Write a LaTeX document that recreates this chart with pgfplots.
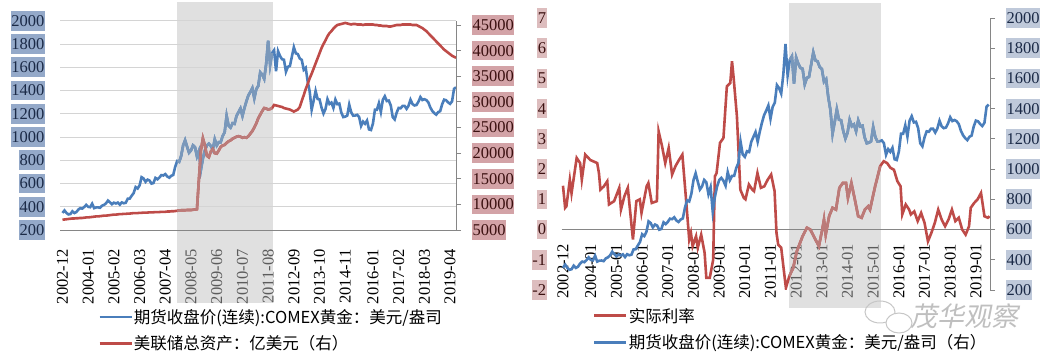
\documentclass[border=0pt]{standalone}
\usepackage{pgfplots}
\pgfplotsset{compat=1.18}
\usepackage{pgfplotstable}
\usepackage{fontspec}
\setmainfont{Liberation Serif}
\newfontfamily\cjk{Noto Sans CJK SC}
\definecolor{goldblue}{HTML}{4A7EBB}
\definecolor{fedred}{HTML}{BE4B48}
\definecolor{goldbluelight}{HTML}{7A98BA}
\definecolor{fedredlight}{HTML}{BB7B79}
\definecolor{boxblueL}{HTML}{94A9C9}
\definecolor{boxpinkL}{HTML}{D3A3A7}
\definecolor{boxpinkR}{HTML}{DDBDBE}
\definecolor{boxblueR}{HTML}{BFC9DA}
\definecolor{gridgray}{HTML}{D4D4D4}
\definecolor{axisgray}{HTML}{868686}
\definecolor{bandgray}{HTML}{E0E0E0}
\definecolor{shadetext}{HTML}{5C5C5C}
\definecolor{labnavy}{HTML}{1B2A47}
\definecolor{labmaroon}{HTML}{3B1010}

\pgfplotstableread{
m v
0 347
1 368
2 347
3 334
4 337
5 361
6 346
7 354
8 375
9 388
10 384
11 398
12 416
13 399
14 396
15 426
16 388
17 394
18 395
19 391
20 409
21 416
22 429
23 453
24 438
25 422
26 435
27 428
28 436
29 418
30 437
31 430
32 434
33 469
34 470
35 495
36 518
37 569
38 557
39 584
40 654
41 643
42 614
43 633
44 626
45 599
46 604
47 648
48 636
49 651
50 672
51 669
52 681
53 660
54 650
55 666
56 673
57 744
58 793
59 786
60 836
61 927
62 972
63 917
64 865
65 885
66 928
67 913
68 834
69 880
70 718
71 815
72 884
73 927
74 942
75 923
76 890
77 980
78 927
79 955
80 955
81 1008
82 1040
83 1182
84 1097
85 1081
86 1118
87 1113
88 1180
89 1213
90 1245
91 1181
92 1248
93 1307
94 1357
95 1387
96 1421
97 1333
98 1411
99 1439
100 1556
101 1536
102 1500
103 1628
104 1828
105 1620
106 1722
107 1746
108 1566
109 1738
110 1697
111 1669
112 1664
113 1561
114 1604
115 1610
116 1691
117 1772
118 1719
119 1713
120 1675
121 1663
122 1578
123 1595
124 1476
125 1392
126 1234
127 1312
128 1396
129 1327
130 1323
131 1253
132 1202
133 1240
134 1326
135 1284
136 1296
137 1250
138 1322
139 1282
140 1287
141 1210
142 1171
143 1175
144 1184
145 1278
146 1212
147 1183
148 1184
149 1190
150 1172
151 1095
152 1132
153 1114
154 1141
155 1065
156 1060
157 1116
158 1234
159 1234
160 1290
161 1215
162 1320
163 1350
164 1309
165 1313
166 1272
167 1171
168 1151
169 1210
170 1250
171 1247
172 1267
173 1267
174 1242
175 1269
176 1320
177 1283
178 1271
179 1275
180 1303
181 1343
182 1318
183 1325
184 1317
185 1298
186 1254
187 1224
188 1205
189 1192
190 1214
191 1222
192 1282
193 1321
194 1316
195 1298
196 1285
197 1306
198 1414
199 1427
}\gold

\pgfplotstableread{
m v
0 7000
1 7050
2 7100
3 7150
4 7200
5 7250
6 7250
7 7300
8 7300
9 7350
10 7350
11 7400
12 7450
13 7450
14 7500
15 7550
16 7600
17 7650
18 7650
19 7700
20 7750
21 7800
22 7800
23 7850
24 7900
25 7950
26 8000
27 8000
28 8050
29 8100
30 8100
31 8150
32 8150
33 8200
34 8200
35 8250
36 8300
37 8300
38 8300
39 8350
40 8350
41 8400
42 8400
43 8400
44 8450
45 8450
46 8450
47 8500
48 8500
49 8500
50 8550
51 8550
52 8550
53 8600
54 8600
55 8650
56 8650
57 8700
58 8750
59 8800
60 8850
61 8850
62 8850
63 8900
64 8900
65 8900
66 8950
67 9000
68 9050
69 15000
70 20500
71 22900
72 21500
73 19500
74 19200
75 20300
76 20800
77 20000
78 19900
79 20500
80 21200
81 21500
82 21600
83 22000
84 22300
85 22500
86 22800
87 23000
88 23200
89 23300
90 23200
91 23000
92 23100
93 23000
94 23300
95 23800
96 24300
97 25000
98 25800
99 26800
100 27500
101 28200
102 28800
103 28700
104 28500
105 28600
106 28800
107 29400
108 29300
109 29200
110 29100
111 29000
112 28800
113 28700
114 28600
115 28500
116 28300
117 28100
118 28300
119 28500
120 29000
121 30200
122 31300
123 32500
124 33500
125 34600
126 35500
127 36500
128 37500
129 38500
130 39500
131 40500
132 41300
133 42000
134 42800
135 43400
136 43800
137 44300
138 44700
139 45000
140 45100
141 45200
142 45300
143 45400
144 45300
145 45200
146 45100
147 45200
148 45200
149 45100
150 45100
151 45100
152 45000
153 45100
154 45100
155 45100
156 45100
157 45100
158 45000
159 45000
160 44900
161 44900
162 44800
163 44800
164 44800
165 44700
166 44700
167 44800
168 44900
169 45000
170 45000
171 45000
172 45100
173 45100
174 45100
175 45100
176 45100
177 45000
178 45000
179 45000
180 44800
181 44600
182 44400
183 44100
184 43800
185 43400
186 43000
187 42600
188 42200
189 41800
190 41400
191 41000
192 40600
193 40200
194 39900
195 39600
196 39300
197 39000
198 38800
199 38600
}\fed

\pgfplotstableread{
m v
0 1.45
1 0.72
1.6 0.77
3.2 1.65
4 1.2
6.4 2.37
8 2.2
8.8 1.65
10.4 2.48
12.8 2.3
16 2.2
16.8 1.87
17.5 1.32
19.1 1.43
20.7 1.6
21.5 0.83
23.9 0.94
26.3 1.38
27.1 0.66
28.7 1.1
30.3 1.38
32.7 -0.33
34.3 0.94
35.9 1.0
36.7 0.55
39.1 1.43
39.9 1.54
41.5 0.88
43.9 0.94
44.7 3.25
46.3 2.76
47.8 2.2
49.4 2.7
51.0 1.82
52.6 2.1
54.2 2.3
55.8 2.48
57.4 1.1
59.0 -0.33
59.8 -0.11
60.6 -0.55
62.2 -0.22
63.0 -0.6
64.6 -0.17
66.2 -0.77
67.0 -1.6
68.6 -1.6
70.2 -1.0
71.0 1.76
71.8 1.87
73.4 2.87
75.0 3.03
76.6 4.74
78.2 4.85
79.0 5.57
79.7 5.07
81.3 3.75
82.9 1.32
84.5 1.05
85.3 1.0
86.9 1.49
88.5 1.32
89.3 1.27
90.9 1.87
92.5 1.38
94.1 1.43
95.7 1.65
97.3 1.82
98.9 1.27
99.8 -0.11
100.6 -0.5
102.0 -0.6
103.0 -1.21
104.2 -1.93
105.8 -1.54
107.6 -1.27
109.3 -0.72
112.0 -0.22
114.0 0.06
115.6 0.0
118.0 -0.33
119.6 -0.55
121.2 0.0
122.0 0.33
122.8 -0.17
124.4 0.44
126.0 0.72
127.6 0.66
129.2 1.38
130.8 1.54
132.3 1.54
133.2 1.05
134.8 1.54
136.4 1.0
138.0 0.44
139.6 0.39
141.1 0.66
142.7 0.77
143.5 0.66
145.9 1.43
148.3 2.1
149.9 2.26
151.5 2.2
153.1 2.04
154.7 1.98
156.3 1.6
157.8 1.43
158.6 0.5
160.2 0.83
161.8 0.66
162.6 0.5
164.2 0.6
165.8 0.28
167.4 0.55
169.0 0.22
170.6 -0.39
172.2 -0.11
173.8 0.22
175.4 0.66
177.0 0.33
178.6 0.11
180.2 0.33
181.8 0.66
183.4 0.28
185.0 0.39
186.6 0.0
188.2 -0.17
189.8 0.11
190.6 0.72
192.2 0.88
193.8 1.0
195.4 1.21
197.0 0.44
198.6 0.39
199.4 0.44
}\rate

\pgfplotsset{
  every axis/.append style={
    scale only axis,
    /pgf/number format/assume math mode=true,
    /pgf/number format/1000 sep={},
    scaled y ticks=false,
    tick label style={font=\fontsize{16.5}{18}\selectfont},
  },
  serieswidth/.style={line width=2.6pt},
}
\newcommand{\legfont}{\cjk\fontsize{16.5}{18}\selectfont}
\newcommand{\sg}[1]{\textcolor{shadetext}{#1}}

\begin{document}
\begin{tikzpicture}
\useasboundingbox (0pt,0pt) rectangle (1050pt,363pt);

% ---------------- Left panel ----------------
% shading band (background)
\begin{axis}[
  hide axis, clip=false,
  at={(60pt,133pt)}, anchor=south west, width=396pt, height=209.3pt,
  xmin=-1.26, xmax=199, ymin=200, ymax=2000,
]
\addplot[draw=none, forget plot] coordinates {(0,1000)};
\fill[bandgray] (axis cs:57.8,-428) rectangle (axis cs:106.5,2161);
\end{axis}

\begin{axis}[
  at={(60pt,133pt)}, anchor=south west, width=396pt, height=209.3pt,
  xmin=-1.26, xmax=199, ymin=200, ymax=2000,
  axis x line*=bottom, axis y line*=left,
  x axis line style={draw=axisgray, line width=0.9pt},
  y axis line style={draw=none},
  major tick style={draw=none},
  ytick={200,400,...,2000},
  ymajorgrids, grid style={gridgray, line width=0.8pt},
  xtick={0,13,26,39,52,65,78,91,104,117,130,143,157,170,183,196},
  xticklabels={2002-12,2004-01,2005-02,2006-03,2007-04,\sg{2008-05},\sg{2009-06},\sg{2010-07},\sg{2011-08},2012-09,2013-10,2014-11,2016-01,2017-02,2018-03,2019-04},
  x tick label style={rotate=90, anchor=east, inner sep=0pt},
  xticklabel shift=19pt,
  y tick label style={fill=boxblueL, text=labnavy, inner xsep=0.5pt, inner ysep=4.3pt, anchor=east},
  yticklabel shift=15pt,
]
\addplot[goldblue, serieswidth] table[x=m, y=v] {\gold};
\addplot[goldbluelight, serieswidth, restrict x to domain=58:106, forget plot] table[x=m, y=v] {\gold};
\end{axis}

\begin{axis}[
  at={(60pt,133pt)}, anchor=south west, width=396pt, height=209.3pt,
  xmin=-1.26, xmax=199, ymin=5000, ymax=45839,
  axis x line=none, axis y line*=right, xtick=\empty,
  y axis line style={draw=axisgray, line width=0.9pt},
  ytick={5000,10000,...,45000},
  ytick style={draw=axisgray, line width=0.9pt}, tick align=outside, major tick length=5pt,
  y tick label style={fill=boxpinkL, text=labmaroon, inner xsep=0.5pt, inner ysep=4.3pt, anchor=west},
  yticklabel shift=11pt,
  legend style={draw=none, fill=none, at={(0.096,-0.372)}, anchor=north west,
    font=\legfont, row sep=9pt, inner sep=0pt, nodes={inner sep=1pt}},
  legend cell align=left,
  legend image code/.code={\draw[#1] (0pt,0pt) -- (32pt,0pt);},
]
\addlegendimage{goldblue, serieswidth}
\addlegendentry{期货收盘价(连续):COMEX黄金：美元/盎司}
\addplot[fedred, serieswidth] table[x=m, y=v] {\fed};
\addlegendentry{美联储总资产：亿美元（右）}
\addplot[fedredlight, serieswidth, restrict x to domain=58:106, forget plot] table[x=m, y=v] {\fed};
\end{axis}

% ---------------- Right panel ----------------
\begin{axis}[
  hide axis, clip=false,
  at={(561.7pt,73pt)}, anchor=south west, width=428.3pt, height=272pt,
  xmin=-0.6, xmax=199.6, ymin=-2, ymax=7,
]
\addplot[draw=none, forget plot] coordinates {(0,0)};
\fill[bandgray] (axis cs:105.5,-2.6) rectangle (axis cs:148.8,7.51);
\end{axis}

\begin{axis}[
  at={(561.7pt,73pt)}, anchor=south west, width=428.3pt, height=272pt,
  xmin=-0.6, xmax=199.6, ymin=-2, ymax=7,
  axis x line*=middle, axis y line*=left,
  x axis line style={draw=axisgray, line width=0.9pt},
  y axis line style={draw=none},
  major tick style={draw=none},
  ytick={-2,-1,...,7},
  xtick={0,13,25,37,49,61,73,85,97,109,121,133,145,157,169,181,193},
  xticklabels={2002-12,2004-01,2005-01,2006-01,2007-01,2008-01,2009-01,2010-01,2011-01,\sg{2012-01},\sg{2013-01},\sg{2014-01},\sg{2015-01},2016-01,2017-01,2018-01,2019-01},
  x tick label style={rotate=90, anchor=east, inner sep=0pt},
  xticklabel shift=14pt,
  y tick label style={fill=boxpinkR, text=labmaroon, inner xsep=0.5pt, inner ysep=4.3pt, anchor=east},
  yticklabel shift=15pt,
]
\addplot[fedred, serieswidth] table[x=m, y=v] {\rate};
\addplot[fedredlight, serieswidth, restrict x to domain=105.5:148.8, forget plot] table[x=m, y=v] {\rate};
\end{axis}

\begin{axis}[
  at={(561.7pt,73pt)}, anchor=south west, width=428.3pt, height=272pt,
  xmin=-0.6, xmax=199.6, ymin=200, ymax=2000,
  axis x line=none, axis y line*=right, xtick=\empty,
  y axis line style={draw=axisgray, line width=0.9pt},
  ytick={200,400,...,2000},
  ytick style={draw=axisgray, line width=0.9pt}, tick align=outside, major tick length=5pt,
  y tick label style={fill=boxblueR, text=labnavy, inner xsep=0.5pt, inner ysep=4.3pt, anchor=west},
  yticklabel shift=11pt,
  legend style={draw=none, fill=none, at={(0.073,-0.062)}, anchor=north west,
    font=\legfont, row sep=9pt, inner sep=0pt, nodes={inner sep=1pt}},
  legend cell align=left,
  legend image code/.code={\draw[#1] (0pt,0pt) -- (32pt,0pt);},
]
\addlegendimage{fedred, serieswidth}
\addlegendentry{实际利率}
\addplot[goldblue, serieswidth] table[x=m, y=v] {\gold};
\addlegendentry{期货收盘价(连续):COMEX黄金：美元/盎司（右）}
\addplot[goldbluelight, serieswidth, restrict x to domain=105.5:148.8, forget plot] table[x=m, y=v] {\gold};
\end{axis}

% watermark
\draw[gray!45, line width=1pt] (880pt,51pt) ellipse (15pt and 11pt);
\draw[gray!45, line width=1pt, fill=white] (899pt,40pt) ellipse (13pt and 10pt);
\node[text=gray!50, font=\cjk\fontsize{27}{27}\selectfont, xslant=0.2] at (967pt,47pt) {茂华观察};
\end{tikzpicture}
\end{document}
